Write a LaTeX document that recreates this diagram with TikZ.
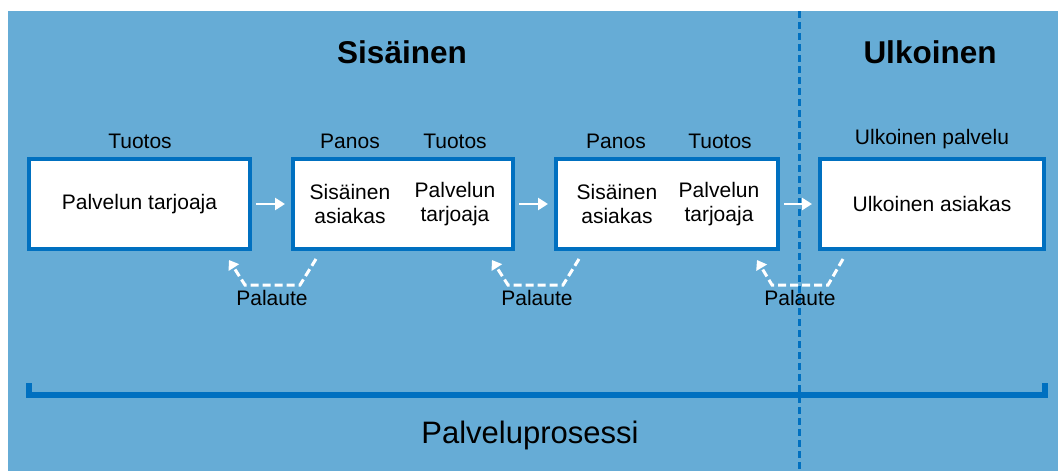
\documentclass[tikz,border=0pt]{standalone}
\usepackage{fontspec}
\setmainfont{Liberation Sans}
\usetikzlibrary{arrows.meta,calc}
\definecolor{bgblue}{RGB}{102,172,214}
\definecolor{edgeblue}{RGB}{0,112,192}
\tikzset{
  stage/.style={draw=edgeblue, line width=4pt, fill=white, minimum height=90pt, inner sep=0pt},
  txt/.style={font=\fontsize{21}{24}\selectfont, align=center, inner sep=0pt},
  head/.style={font=\fontsize{31.5}{36}\selectfont\bfseries, inner sep=0pt},
  flow/.style={white, line width=2.8pt, -{Triangle[length=10pt,width=12pt]}},
  feedback/.style={white, line width=3pt, dash pattern=on 8pt off 4pt, -{Triangle[length=9pt,width=12pt]}},
  divider/.style={edgeblue, line width=3pt, dash pattern=on 7pt off 4pt},
}
\begin{document}
\begin{tikzpicture}[x=1pt,y=-1pt]
  \useasboundingbox (0,0) rectangle (1058,471);
  \fill[bgblue] (8,11) rectangle (1058,471);

  % section headings
  \node[head] (hin) at (402,52) {Sisäinen};
  \node[head] (hout) at (930,52) {Ulkoinen};

  % internal / external divider
  \coordinate (dtop) at (799,11);
  \coordinate (dbot) at (799,471);
  \draw[divider] (dtop) -- (dbot);

  % process stages
  \node[stage, minimum width=221pt] (b1) at (139.5,204) {};
  \node[stage, minimum width=220pt] (b2) at (403,204) {};
  \node[stage, minimum width=222pt] (b3) at (667,204) {};
  \node[stage, minimum width=224pt] (b4) at (932,204) {};

  \node[txt] (t1) at (b1) {Palvelun tarjoaja};
  \node[txt] (t2a) at (350,204) {Sisäinen\\asiakas};
  \node[txt] (t2b) at (455,204) {Palvelun\\tarjoaja};
  \node[txt] (t3a) at (617,204) {Sisäinen\\asiakas};
  \node[txt] (t3b) at (719,204) {Palvelun\\tarjoaja};
  \node[txt] (t4) at (b4) {Ulkoinen asiakas};

  % labels above the stages
  \node[txt] (l1) at (140,141) {Tuotos};
  \node[txt] (l2a) at (350,141) {Panos};
  \node[txt] (l2b) at (455,141) {Tuotos};
  \node[txt] (l3a) at (616,141) {Panos};
  \node[txt] (l3b) at (720,141) {Tuotos};
  \node[txt] (l4) at (932,139) {Ulkoinen palvelu};

  % forward flow
  \draw[flow] ([xshift=4pt]b1.east) -- ([xshift=-6pt]b2.west);
  \draw[flow] ([xshift=4pt]b2.east) -- ([xshift=-6pt]b3.west);
  \draw[flow] ([xshift=4pt]b3.east) -- ([xshift=-6pt]b4.west);

  % feedback loops
  \draw[feedback] ([xshift=25pt,yshift=-8pt]b2.south west) -- ++(-16,26) -- ++(-55,0) -- ([xshift=-23pt,yshift=-9pt]b1.south east);
  \draw[feedback] ([xshift=25pt,yshift=-8pt]b3.south west) -- ++(-16,26) -- ++(-55,0) -- ([xshift=-23pt,yshift=-9pt]b2.south east);
  \draw[feedback] ([xshift=25pt,yshift=-8pt]b4.south west) -- ++(-15,26) -- ++(-56,0) -- ([xshift=-23pt,yshift=-9pt]b3.south east);
  \node[txt] (p1) at (272,298) {Palaute};
  \node[txt] (p2) at (537,298) {Palaute};
  \node[txt] (p3) at (800,298) {Palaute};

  % overall process bracket
  \coordinate (bl) at (29,383);
  \coordinate (br) at (1045,383);
  \draw[edgeblue, line width=5.5pt] (bl) -- (29,395) -- (1045,395) -- (br);
  \node[txt, font=\fontsize{31}{36}\selectfont] (proc) at (530,435) {Palveluprosessi};
\end{tikzpicture}
\end{document}
